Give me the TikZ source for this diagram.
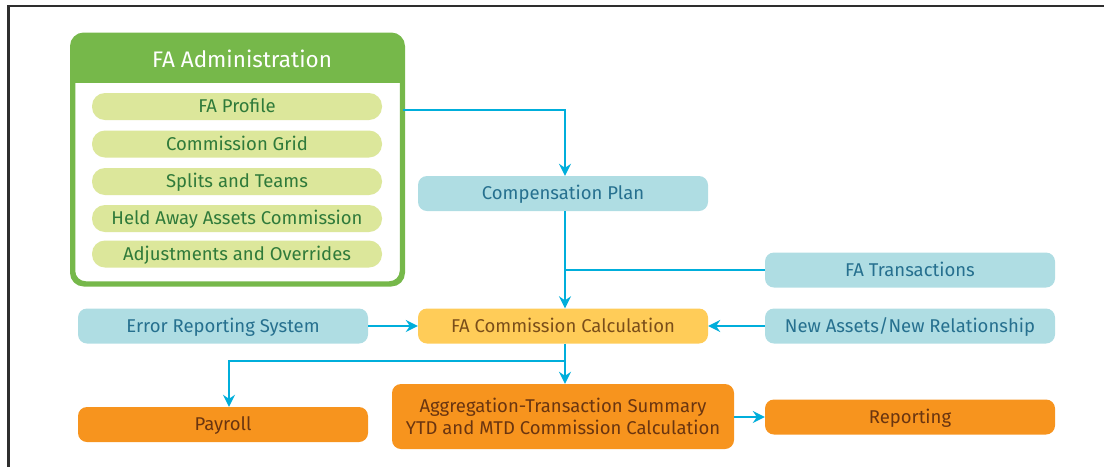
\documentclass[tikz,border=0pt]{standalone}
\usepackage{fontspec}
\setmainfont{Fira Sans}
\usetikzlibrary{arrows.meta}

\definecolor{framegray}{HTML}{2E2E2E}
\definecolor{admgreen}{HTML}{76B84A}
\definecolor{pillgreen}{HTML}{DCE79B}
\definecolor{pilltext}{HTML}{2F7A3A}
\definecolor{bluebox}{HTML}{AFDDE3}
\definecolor{bluetext}{HTML}{26708F}
\definecolor{yellowbox}{HTML}{FFCC58}
\definecolor{yellowtext}{HTML}{7A4E1A}
\definecolor{orangebox}{HTML}{F7941E}
\definecolor{orangetext}{HTML}{6A3510}
\definecolor{linkblue}{HTML}{00AEDB}

\tikzset{
  box/.style={rounded corners=9pt, minimum width=290pt, minimum height=35pt,
    inner sep=0pt, font=\fontsize{18.5}{22}\selectfont},
  oneline/.style={text height=17.7pt, text depth=5pt},
  bluenode/.style={box, oneline, fill=bluebox, text=bluetext},
  yellownode/.style={box, oneline, fill=yellowbox, text=yellowtext},
  orangenode/.style={box, oneline, fill=orangebox, text=orangetext},
  orangewide/.style={box, fill=orangebox, text=orangetext, align=center,
    minimum width=342pt, minimum height=65pt, font=\fontsize{18.5}{22.5}\selectfont},
  pill/.style={rounded corners=13pt, fill=pillgreen, text=pilltext, oneline,
    minimum width=290pt, minimum height=27pt, inner sep=0pt,
    font=\fontsize{18.5}{22}\selectfont},
  link/.style={draw=linkblue, line width=1.8pt},
  arr/.style={link, -{Stealth[length=12pt, width=12pt, inset=4pt]}},
}

\begin{document}
\begin{tikzpicture}[x=1pt, y=-1pt]
  \useasboundingbox (0,0) rectangle (1104,467);

  % page frame (top and left edges)
  \draw[framegray, line width=2.6pt] (1104,6) -- (8.5,6) -- (8.5,467);

  % FA Administration panel
  \node[draw=admgreen, line width=3.5pt, rounded corners=12pt, fill=white,
        minimum width=328pt, minimum height=247pt, inner sep=0pt]
        (admin) at (237.5,159.5) {};
  \begin{scope}
    \clip[rounded corners=12pt] (admin.north west) rectangle (admin.south east);
    \fill[admgreen] (admin.north west) rectangle (admin.east |- 0,83);
  \end{scope}
  \draw[admgreen, line width=3.5pt, rounded corners=12pt]
        (admin.north west) rectangle (admin.south east);
  \node[text=white, font=\fontsize{22.5}{26}\selectfont] (hdr) at (242,59) {FA Administration};

  \node[pill] (p1) at (237,106.5) {FA Profile};
  \node[pill] (p2) at (237,144) {Commission Grid};
  \node[pill] (p3) at (237,181.5) {Splits and Teams};
  \node[pill] (p4) at (237,218.5) {Held Away Assets Commission};
  \node[pill] (p5) at (237,254) {Adjustments and Overrides};

  % flow boxes
  \node[bluenode] (comp) at (563,193.5) {Compensation Plan};
  \node[bluenode] (trans) at (910,270) {FA Transactions};
  \node[yellownode] (calc) at (563,326) {FA Commission Calculation};
  \node[bluenode] (err) at (223,326) {Error Reporting System};
  \node[bluenode] (newa) at (910,326) {New Assets/New Relationship};
  \node[orangenode] (payroll) at (223,424.5) {Payroll};
  \node[orangewide] (agg) at (563,416.5)
        {Aggregation-Transaction Summary\\YTD and MTD Commission Calculation};
  \node[orangenode] (report) at (910,417) {Reporting};

  % vertical trunk and branch points
  \coordinate (trunkA) at ([xshift=2pt]comp.south);
  \coordinate (trunkB) at ([xshift=2pt]calc.south);
  \coordinate (split) at (trunkB |- 0,361);

  % connectors
  \draw[arr] (admin.east |- 0,110) -| ([xshift=2pt]comp.north);
  \draw[arr] (trunkA) -- ([xshift=2pt]calc.north);
  \draw[link] (trans.west) -- (trans.west -| trunkA);
  \draw[arr] (err.east) -- (calc.west);
  \draw[arr] (newa.west) -- (calc.east);
  \draw[arr] (trunkB) -- (trunkB |- agg.north);
  \draw[arr] (split) -| ([xshift=6pt]payroll.north);
  \draw[arr] (agg.east |- report.west) -- (report.west);
\end{tikzpicture}
\end{document}
